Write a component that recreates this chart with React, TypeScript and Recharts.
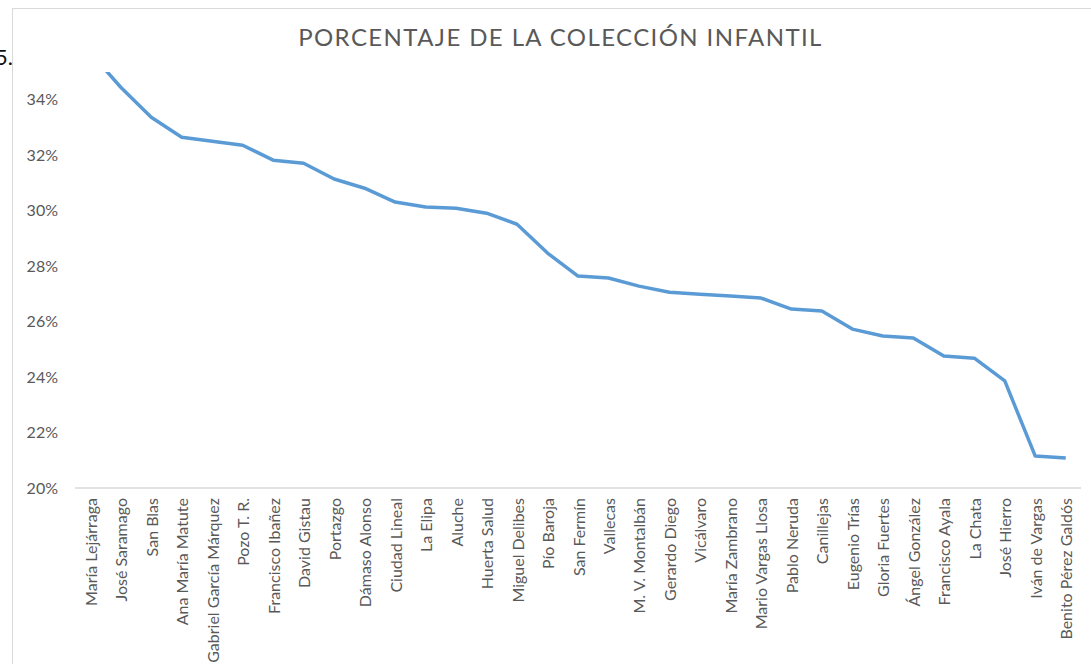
import React from "react";
import { LineChart, Line, XAxis, YAxis } from "recharts";

const categories: string[] = [
  "María Lejárraga", "José Saramago", "San Blas", "Ana María Matute", "Gabriel García Márquez",
  "Pozo T. R.", "Francisco Ibañez", "David Gistau", "Portazgo", "Dámaso Alonso",
  "Ciudad Lineal", "La Elipa", "Aluche", "Huerta Salud", "Miguel Delibes",
  "Pío Baroja", "San Fermín", "Vallecas", "M. V. Montalbán", "Gerardo Diego",
  "Vicálvaro", "María  Zambrano", "Mario Vargas Llosa", "Pablo Neruda", "Canillejas",
  "Eugenio Trías", "Gloria Fuertes", "Ángel González", "Francisco Ayala", "La Chata",
  "José Hierro", "Iván de Vargas", "Benito Pérez Galdós",
];

const percentages: number[] = [
  35.7, 34.45, 33.37, 32.65, 32.5,
  32.36, 31.82, 31.71, 31.14, 30.81,
  30.31, 30.13, 30.09, 29.91, 29.51,
  28.47, 27.64, 27.57, 27.28, 27.06,
  26.99, 26.92, 26.85, 26.45, 26.38,
  25.73, 25.48, 25.41, 24.76, 24.68,
  23.86, 21.15, 21.08,
];

const yTicks: number[] = [20, 22, 24, 26, 28, 30, 32, 34];
const title = "PORCENTAJE DE LA COLECCIÓN INFANTIL";

const data = categories.map((name, i) => ({ name, value: percentages[i] }));

const FONT = "Lato, 'Open Sans', sans-serif";
const GREY = "#595959";

const XTick = (props: any) => {
  const { x, y, payload } = props;
  return (
    <text
      x={x}
      y={y}
      transform={`rotate(-90, ${x}, ${y})`}
      textAnchor="end"
      dominantBaseline="central"
      fill={GREY}
      fontSize={16}
      fontFamily={FONT}
    >
      {payload.value}
    </text>
  );
};

export default function App() {
  return (
    <div
      style={{
        position: "absolute",
        left: 0,
        top: 0,
        width: 1091,
        height: 664,
        overflow: "hidden",
        background: "#fff",
      }}
    >
      <div
        style={{
          position: "absolute",
          left: 12,
          top: 8,
          width: 1200,
          height: 800,
          border: "1.5px solid #D9D9D9",
          boxSizing: "border-box",
        }}
      />
      <div
        style={{
          position: "absolute",
          left: -5,
          top: 43,
          fontFamily: FONT,
          fontSize: 22,
          color: "#111",
        }}
      >
        5.
      </div>
      <div
        style={{
          position: "absolute",
          left: 0,
          top: 21.5,
          width: 1121,
          textAlign: "center",
          fontFamily: FONT,
          fontSize: 24,
          letterSpacing: 1.4,
          color: GREY,
          whiteSpace: "nowrap",
        }}
      >
        {title}
      </div>
      <div style={{ position: "absolute", left: 0, top: 0 }}>
        <LineChart
          width={1091}
          height={664}
          data={data}
          margin={{ top: 72, right: 10, bottom: 0, left: 0 }}
        >
          <XAxis
            dataKey="name"
            interval={0}
            tick={<XTick />}
            tickLine={false}
            tickSize={0}
            tickMargin={10}
            height={176}
            padding={{ left: 15.25, right: 15.25 }}
            axisLine={{ stroke: "#D9D9D9", strokeWidth: 1.5 }}
          />
          <YAxis
            type="number"
            domain={[20, 35]}
            allowDataOverflow
            ticks={yTicks}
            interval={0}
            width={75}
            axisLine={false}
            tickLine={false}
            tickSize={0}
            tickMargin={17}
            tickFormatter={(v: number) => `${v}%`}
            tick={{ fill: GREY, fontSize: 16, fontFamily: FONT }}
          />
          <Line
            type="linear"
            dataKey="value"
            stroke="#5B9BD5"
            strokeWidth={3.5}
            dot={false}
            activeDot={false}
            isAnimationActive={false}
            strokeLinejoin="round"
          />
        </LineChart>
      </div>
    </div>
  );
}
